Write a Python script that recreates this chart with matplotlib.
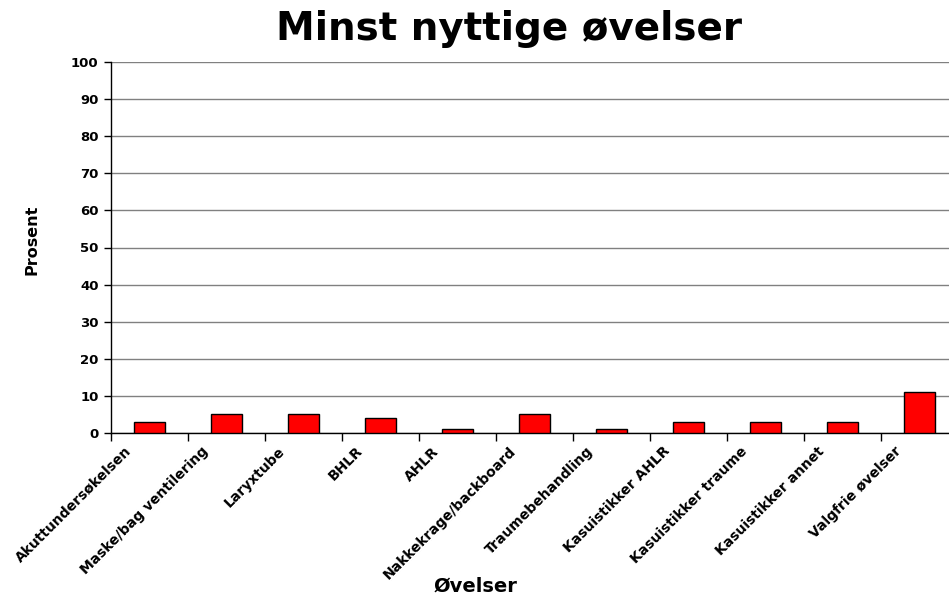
import matplotlib.pyplot as plt
import numpy as np

plt.rcParams['font.family'] = ['DejaVu Sans']

categories = ['Akuttundersøkelsen', 'Maske/bag ventilering', 'Laryxtube', 'BHLR', 'AHLR',
              'Nakkekrage/backboard', 'Traumebehandling', 'Kasuistikker AHLR',
              'Kasuistikker traume', 'Kasuistikker annet', 'Valgfrie øvelser']
values = [3, 5, 5, 4, 1, 5, 1, 3, 3, 3, 11]
yticks = list(range(0, 101, 10))

fig = plt.figure(figsize=(9.49, 5.98), dpi=100)
left, right, bottom, top = 111/949, 958/949, 1 - 433/598, 1 - 62/598
ax = fig.add_axes([left, bottom, right - left, top - bottom])

x = np.arange(len(categories))
ax.bar(x, values, width=0.41, color='#ff0000', edgecolor='black', linewidth=1.0, zorder=3)

ax.set_xlim(-0.5, len(categories) - 0.5)
ax.set_ylim(0, 100)
ax.set_yticks(yticks)
ax.set_yticklabels([str(t) for t in yticks], fontsize=9.5, fontweight='bold')
ax.yaxis.grid(True, color='#808080', linewidth=1.0, zorder=0)
ax.set_axisbelow(True)

# category boundaries get the tick marks, labels sit a bit left of bar centres
ax.set_xticks(np.arange(len(categories) + 1) - 0.5)
ax.set_xticklabels([])
ax.set_xticks(x - 0.33, minor=True)
ax.set_xticklabels(categories, minor=True, rotation=45, ha='right', rotation_mode='anchor',
                   fontsize=10, fontweight='bold')
ax.tick_params(axis='x', which='minor', length=0, pad=8)
ax.tick_params(axis='x', which='major', length=6, width=1, direction='out')
ax.tick_params(axis='y', length=5, width=1, direction='out', pad=4)

for s in ['top', 'right']:
    ax.spines[s].set_visible(False)
ax.spines['left'].set_linewidth(1.0)
ax.spines['bottom'].set_linewidth(1.0)

fig.text(32/949, 1 - 240/598, 'Prosent', rotation=90, ha='center', va='center',
         fontsize=11.5, fontweight='bold')
fig.text(475/949, 1 - 586/598, 'Øvelser', ha='center', va='center', fontsize=14, fontweight='bold')
fig.text(509/949, 1 - 29/598, 'Minst nyttige øvelser', ha='center', va='center',
         fontsize=28, fontweight='bold')

fig.savefig('out.png', dpi=100)
